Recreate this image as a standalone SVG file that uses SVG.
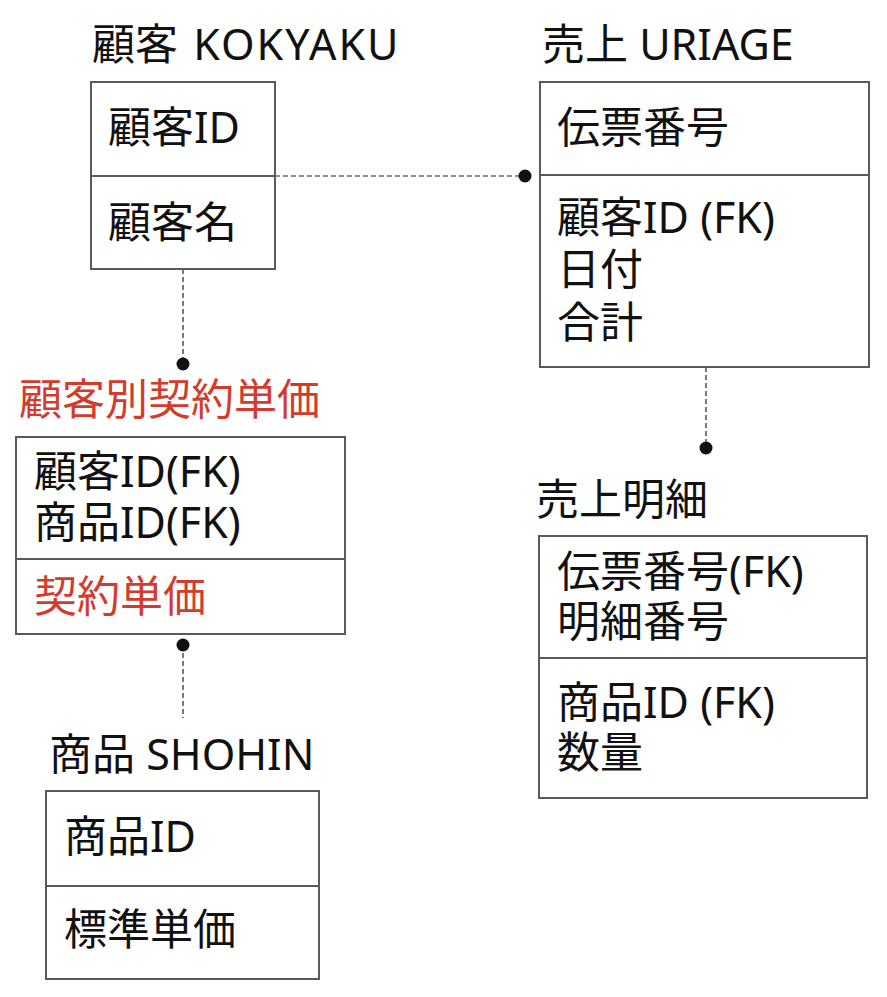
<svg xmlns="http://www.w3.org/2000/svg" width="887" height="997" viewBox="0 0 887 997">
<style>
text{font-family:"Noto Sans","Noto Sans CJK JP",sans-serif;font-size:43px;fill:#111}
.red{fill:#d33b2c}
.box{fill:#fff;stroke:#5a5a5a;stroke-width:2}
.div{stroke:#5a5a5a;stroke-width:2}
.dash{stroke:#222;stroke-width:1.2;stroke-dasharray:5 3;fill:none}
.dot{fill:#111}
</style>
<rect width="887" height="997" fill="#fff"/>
<g id="connectors">
<line class="dash" x1="275" y1="176" x2="525" y2="176"/>
<circle class="dot" cx="525" cy="176" r="6.5"/>
<line class="dash" x1="183" y1="269" x2="183" y2="364"/>
<circle class="dot" cx="183" cy="364" r="6.5"/>
<line class="dash" x1="706" y1="367" x2="706" y2="448"/>
<circle class="dot" cx="706" cy="448" r="6.5"/>
<line class="dash" x1="183" y1="645" x2="183" y2="718"/>
<circle class="dot" cx="183" cy="645" r="6.5"/>
</g>
<g id="kokyaku">
<text x="92" y="60">顧客 <tspan dx="4" letter-spacing="2">KOKYAKU</tspan></text>
<rect class="box" x="91" y="82" width="184" height="187"/>
<line class="div" x1="91" y1="176" x2="275" y2="176"/>
<text x="108" y="143">顧客ID</text>
<text x="108" y="238">顧客名</text>
</g>
<g id="uriage">
<text x="542" y="60">売上 URIAGE</text>
<rect class="box" x="540" y="82" width="329" height="285"/>
<line class="div" x1="540" y1="175" x2="869" y2="175"/>
<text x="557" y="143">伝票番号</text>
<text x="557" y="233">顧客ID (FK)</text>
<text x="557" y="285">日付</text>
<text x="557" y="338">合計</text>
</g>
<g id="keiyaku">
<text class="red" x="19" y="415">顧客別契約単価</text>
<rect class="box" x="16" y="437" width="329" height="197"/>
<line class="div" x1="16" y1="559" x2="345" y2="559"/>
<text x="34" y="487">顧客ID(FK)</text>
<text x="34" y="538">商品ID(FK)</text>
<text class="red" x="34" y="612">契約単価</text>
</g>
<g id="meisai">
<text x="536" y="515">売上明細</text>
<rect class="box" x="539" y="536" width="328" height="262"/>
<line class="div" x1="539" y1="658" x2="867" y2="658"/>
<text x="557" y="587">伝票番号(FK)</text>
<text x="557" y="637">明細番号</text>
<text x="557" y="718">商品ID (FK)</text>
<text x="557" y="768">数量</text>
</g>
<g id="shohin">
<text x="49" y="770">商品 SHOHIN</text>
<rect class="box" x="46" y="791" width="273" height="188"/>
<line class="div" x1="46" y1="886" x2="319" y2="886"/>
<text x="64" y="852">商品ID</text>
<text x="64" y="945">標準単価</text>
</g>
</svg>
